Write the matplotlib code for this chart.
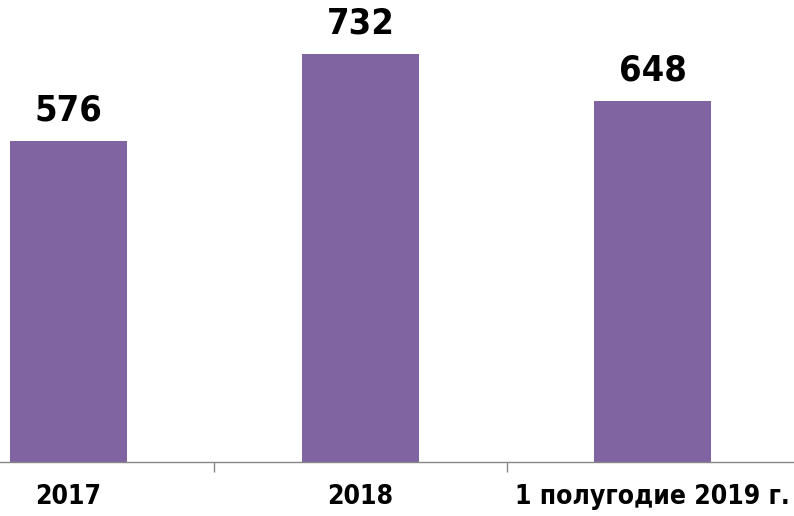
import matplotlib
matplotlib.use('Agg')
import matplotlib.pyplot as plt

# Data
categories = ['2017', '2018', '1 полугодие 2019 г.']
values = [576, 732, 648]

bar_color = '#8064A2'
font = ['DejaVu Sans']

fig = plt.figure(figsize=(7.94, 5.16), dpi=100)
ax = fig.add_axes([-78 / 794, 54 / 516, 877 / 794, 462 / 516])

x = range(len(categories))
bars = ax.bar(x, values, width=0.40, color=bar_color, zorder=2)

ax.set_xlim(-0.5, len(categories) - 0.5)
ax.set_ylim(0, 829)

# value labels
for b, v in zip(bars, values):
    ax.annotate(str(v), (b.get_x() + b.get_width() / 2, v),
                xytext=(0, 15), textcoords='offset points',
                ha='center', va='baseline', fontsize=26, fontweight='bold',
                family=font, fontstretch='condensed', color='black')

# axes styling
for s in ['top', 'left', 'right']:
    ax.spines[s].set_visible(False)
ax.spines['bottom'].set_color('#868686')
ax.spines['bottom'].set_linewidth(1.0)
ax.set_yticks([])

ax.set_xticks(list(x))
ax.set_xticklabels(categories, fontsize=19, fontweight='bold', family=font,
                   fontstretch='condensed')
ax.tick_params(axis='x', which='major', length=0, pad=16)
ax.set_xticks([i + 0.5 for i in range(len(categories) - 1)], minor=True)
ax.tick_params(axis='x', which='minor', length=7, width=1.0, color='#868686')

fig.savefig('out.png', dpi=100, facecolor='white')
